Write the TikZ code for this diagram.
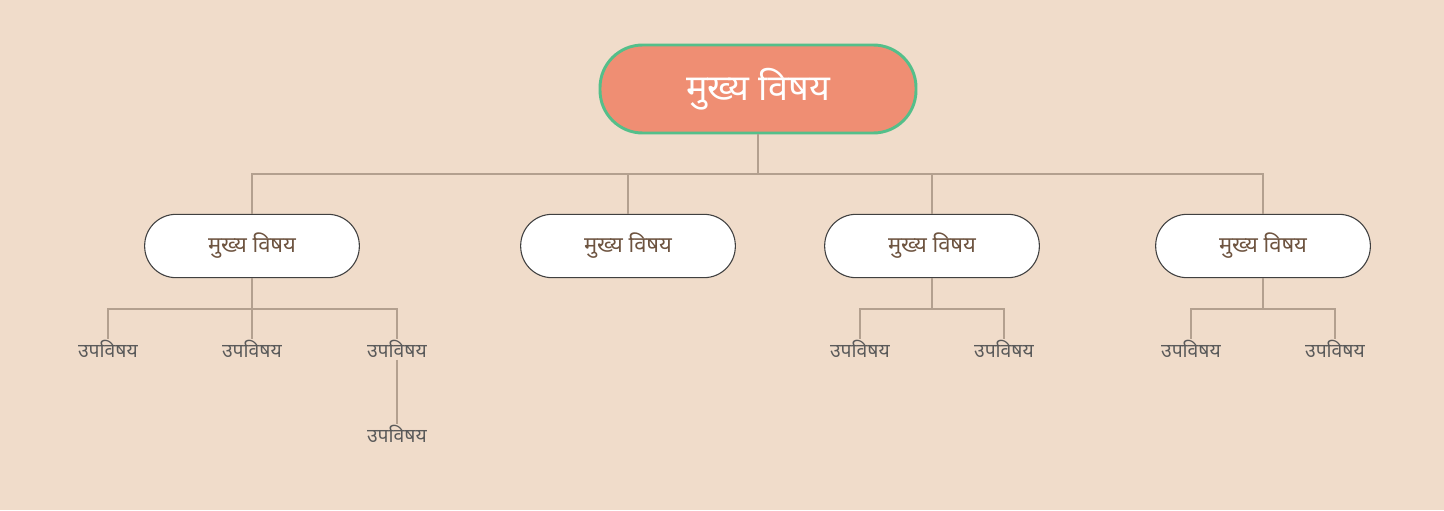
\documentclass[tikz,border=0pt]{standalone}
\usepackage{fontspec}
\newfontfamily\deva[Script=Devanagari]{Noto Sans}
\usepackage{tikz}
\definecolor{bgcol}{RGB}{240,220,202}
\definecolor{rootfill}{RGB}{239,142,115}
\definecolor{rootline}{RGB}{84,191,138}
\definecolor{linkcol}{RGB}{179,160,143}
\definecolor{topictext}{RGB}{110,84,64}
\definecolor{subtext}{RGB}{90,90,90}
\tikzset{
  roottopic/.style={draw=rootline,line width=2.2pt,fill=rootfill,rounded corners=32pt,minimum width=237pt,minimum height=66pt,text=white,font=\deva\fontsize{27}{30}\selectfont},
  topic/.style={draw=black!75,line width=0.8pt,fill=white,rounded corners=23.5pt,minimum width=161pt,minimum height=47.5pt,text=topictext,font=\deva\fontsize{16.5}{19}\selectfont},
  subtopic/.style={inner sep=1pt,text=subtext,font=\deva\fontsize{14.5}{17}\selectfont},
  mainlink/.style={draw=linkcol,line width=2.2pt},
  sublink/.style={draw=linkcol,line width=1.3pt},
}

\begin{document}
\begin{tikzpicture}[x=0.75pt,y=0.75pt,yscale=-1]
\fill[bgcol] (0,0) rectangle (1444,510);

% Root Node
\node [roottopic] (root) at (758,89) {मुख्य विषय};
% Topic Nodes
\node [topic] (t1) at (252,246) {मुख्य विषय};
\node [topic] (t2) at (628,246) {मुख्य विषय};
\node [topic] (t3) at (932,246) {मुख्य विषय};
\node [topic] (t4) at (1263,246) {मुख्य विषय};
% Subtopic Nodes
\node [subtopic,anchor=north] (s11) at (108,339) {उपविषय};
\node [subtopic,anchor=north] (s12) at (252,339) {उपविषय};
\node [subtopic,anchor=north] (s13) at (397,339) {उपविषय};
\node [subtopic,anchor=north] (s131) at (397,424) {उपविषय};
\node [subtopic,anchor=north] (s31) at (860,339) {उपविषय};
\node [subtopic,anchor=north] (s32) at (1004,339) {उपविषय};
\node [subtopic,anchor=north] (s41) at (1191,339) {उपविषय};
\node [subtopic,anchor=north] (s42) at (1335,339) {उपविषय};
% Junctions
\coordinate (bus) at (758,174);
\coordinate (b1) at (252,309);
\coordinate (b3) at (932,309);
\coordinate (b4) at (1263,309);

% Connection
\draw [mainlink] (root.south) -- (bus);
\draw [mainlink] (t1.north) |- (bus) -| (t4.north);
\draw [mainlink] (t2.north) -- (t2.north |- bus);
\draw [mainlink] (t3.north) -- (t3.north |- bus);
% Connection
\draw [sublink] (t1.south) -- (b1);
\draw [sublink] (s11.north) |- (b1) -| (s13.north);
\draw [sublink] (s12.north) -- (b1);
\draw [sublink] (s13.south) -- (s131.north);
% Connection
\draw [sublink] (t3.south) -- (b3);
\draw [sublink] (s31.north) |- (b3) -| (s32.north);
% Connection
\draw [sublink] (t4.south) -- (b4);
\draw [sublink] (s41.north) |- (b4) -| (s42.north);

\end{tikzpicture}
\end{document}
